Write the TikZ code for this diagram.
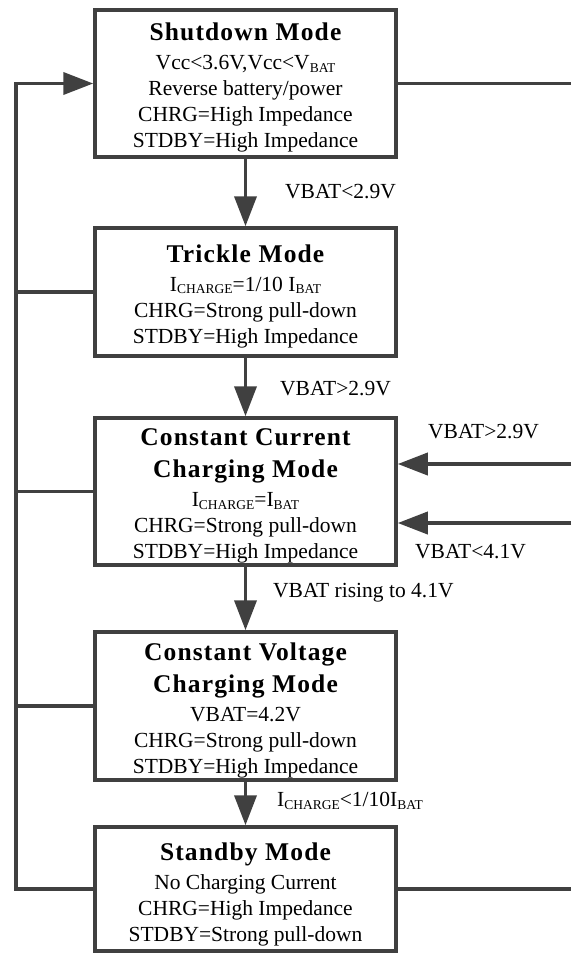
\documentclass[tikz,border=0pt]{standalone}
\usepackage{fontspec}
\setmainfont{Liberation Serif}
\newfontfamily\ttlfont{Liberation Serif}[LetterSpace=4.5]
\usetikzlibrary{arrows.meta}
\definecolor{ln}{HTML}{404040}
\newcommand{\lowsub}[1]{\raisebox{-2.5pt}{\fontsize{13.5}{14}\selectfont #1}}
\newcommand{\ttl}[1]{{\fontsize{25.5}{32}\ttlfont\bfseries #1}}
\newcommand{\ttltop}[1]{\rule{0pt}{26pt}\ttl{#1}}
\begin{document}
\begin{tikzpicture}[x=1pt,y=-1pt,
  modebox/.style={draw=ln,line width=3.5pt,minimum width=301pt,inner sep=0pt,align=center,
    font=\fontsize{21.5}{26}\selectfont},
  conn/.style={draw=ln,line width=3.8pt},
  arr/.style={conn,-{Triangle[length=30pt,width=22pt]}},
  lbl/.style={anchor=west,inner sep=0pt,font=\fontsize{21.5}{26}\selectfont}]
\useasboundingbox (0,0) rectangle (571,954);
\coordinate (bus) at (16,0);
\coordinate (edge) at (571,0);

\node[modebox,minimum height=147pt] (sd) at (245.5,83.5)
  {\ttltop{Shutdown Mode}\\[3pt]Vcc<3.6V,Vcc<V\lowsub{BAT}\\Reverse battery/power\\CHRG=High Impedance\\STDBY=High Impedance};
\node[modebox,minimum height=128pt] (tr) at (245.5,292)
  {\ttltop{Trickle Mode}\\[3pt]I\lowsub{CHARGE}=1/10 I\lowsub{BAT}\\CHRG=Strong pull-down\\STDBY=High Impedance};
\node[modebox,minimum height=147pt] (cc) at (245.5,491.5)
  {\ttltop{Constant Current}\\[6pt]\ttl{Charging Mode}\\[3pt]I\lowsub{CHARGE}=I\lowsub{BAT}\\CHRG=Strong pull-down\\STDBY=High Impedance};
\node[modebox,minimum height=148pt] (cv) at (245.5,706)
  {\ttltop{Constant Voltage}\\[6pt]\ttl{Charging Mode}\\[3pt]VBAT=4.2V\\CHRG=Strong pull-down\\STDBY=High Impedance};
\node[modebox,minimum height=124pt] (sb) at (245.5,889)
  {\rule{0pt}{29pt}\ttl{Standby Mode}\\[3pt]No Charging Current\\CHRG=High Impedance\\STDBY=Strong pull-down};

% vertical flow
\draw[arr] (sd.south) -- (tr.north);
\draw[arr] (tr.south) -- (cc.north);
\draw[arr] (cc.south) -- (cv.north);
\draw[arr] (cv.south) -- (sb.north);

% left bus
\draw[arr] (sb.west) -- (sb.west -| bus) |- (sd.west);
\draw[conn] (tr.west) -- (tr.west -| bus);
\draw[conn] (cc.west) -- (cc.west -| bus);
\draw[conn] (cv.west) -- (cv.west -| bus);

% right side
\draw[conn] (sd.east) -- (sd.east -| edge);
\draw[conn] (sb.east) -- (sb.east -| edge);
\coordinate (in1) at (571,464);
\coordinate (in2) at (571,523);
\draw[arr] (in1) -- (in1 -| cc.east);
\draw[arr] (in2) -- (in2 -| cc.east);

% labels
\node[lbl] (l1) at (285,192) {VBAT<2.9V};
\node[lbl] (l2) at (280,389) {VBAT>2.9V};
\node[lbl] (l3) at (428,432) {VBAT>2.9V};
\node[lbl] (l4) at (415,552) {VBAT<4.1V};
\node[lbl] (l5) at (273,593) {VBAT rising to 4.1V};
\node[lbl] (l6) at (277,801) {I\lowsub{CHARGE}<1/10I\lowsub{BAT}};
\end{tikzpicture}
\end{document}
